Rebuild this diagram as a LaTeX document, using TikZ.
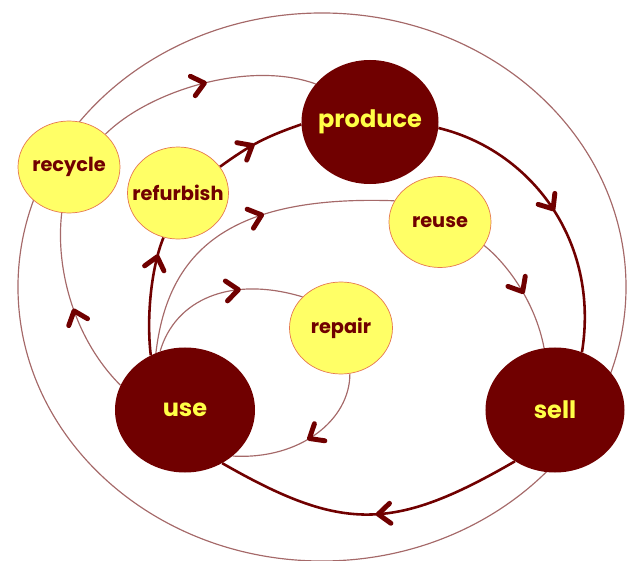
\documentclass[tikz,border=0pt]{standalone}
\usepackage{fontspec}
\setmainfont{Poppins}
\usetikzlibrary{shapes.geometric,decorations.markings}
\pgfdeclarelayer{background}
\pgfsetlayers{background,main}
\definecolor{dk}{RGB}{112,0,0}
\definecolor{lnc}{RGB}{165,105,105}
\definecolor{ylw}{RGB}{255,255,102}
\definecolor{ylwb}{RGB}{230,120,80}
\definecolor{ytxt}{RGB}{255,255,70}
\newcommand{\ctext}[1]{\makebox[0pt]{#1}}
\begin{document}
\begin{tikzpicture}[x=0.03cm,y=-0.03cm,
  darknode/.style={ellipse,fill=dk,draw=none,text=ytxt,inner sep=0pt,
    font=\fontsize{20.5}{24}\selectfont\bfseries},
  lightnode/.style={ellipse,fill=ylw,draw=ylwb,line width=0.6pt,text=dk,inner sep=0pt,
    font=\fontsize{16.5}{18}\selectfont\bfseries},
  mainline/.style={draw=dk,line width=2.2pt},
  sideline/.style={draw=lnc,line width=1pt},
  chev/.style={postaction={decorate,decoration={markings,mark=at position #1 with
    {\draw[dk,line width=4.2pt,line cap=round,line join=round]
      (-0.36cm,0.3cm)--(0,0)--(-0.36cm,-0.3cm);}}}}]
\useasboundingbox (0,0) rectangle (632,561);

\node[darknode,minimum width=4.11cm,minimum height=3.72cm] (prod) at (370,122) {\ctext{produce}};
\node[darknode,minimum width=4.2cm,minimum height=3.75cm] (use) at (185,410) {\ctext{use}};
\node[darknode,minimum width=4.17cm,minimum height=3.75cm] (sell) at (555,410) {\ctext{sell}};
\node[lightnode,minimum width=3.06cm,minimum height=2.76cm] (rec) at (69,167) {\ctext{recycle}};
\node[lightnode,minimum width=3.03cm,minimum height=2.76cm] (ref) at (178,193) {\ctext{refurbish}};
\node[lightnode,minimum width=3.06cm,minimum height=2.73cm] (reuse) at (440,222) {\ctext{reuse}};
\node[lightnode,minimum width=3.09cm,minimum height=2.76cm] (rep) at (341,328) {\ctext{repair}};

\begin{pgfonlayer}{background}
\draw[sideline] (322,287) ellipse [x radius=9.12cm, y radius=8.22cm];
% main cycle
\draw[mainline,chev=0.42] (ref.32) .. controls (250,145) and (265,137) .. (prod.182);
\draw[mainline,chev=0.49] (prod.-5) .. controls (530,150) and (600,240) .. (sell.65);
\draw[mainline,chev=0.47] (sell.232) .. controls (393,532) and (342,532) .. (use.305);
\draw[mainline,chev=0.83] (use.122) .. controls (146,315) and (152,265) .. (ref.252);
% side loops
\draw[sideline,chev=0.47] (use.159) .. controls (75,340) and (55,270) .. (rec.261);
\draw[sideline,chev=0.5] (rec.42) .. controls (150,90) and (250,60) .. (prod.145);
\draw[sideline,chev=0.58] (use.117) .. controls (168,250) and (230,195) .. (reuse.155);
\draw[sideline,chev=0.5] (reuse.332) .. controls (505,262) and (535,300) .. (sell.100);
\draw[sideline,chev=0.62] (use.113) .. controls (175,300) and (230,275) .. (rep.141);
\draw[sideline,chev=0.5] (rep.281) .. controls (350,420) and (300,460) .. (use.316);
\end{pgfonlayer}
\end{tikzpicture}
\end{document}
